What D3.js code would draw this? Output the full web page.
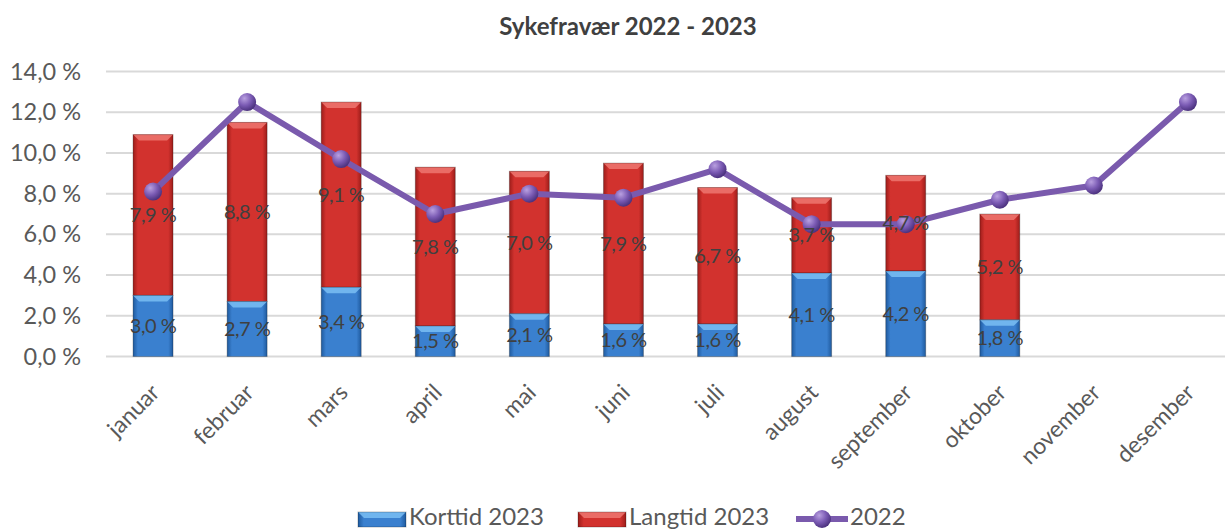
<!DOCTYPE html>
<html>
<head>
<meta charset="utf-8">
<script src="https://cdn.jsdelivr.net/npm/d3@7"></script>
<style>
  body { margin: 0; background: #fff; }
  text { font-family: Lato, "Open Sans", sans-serif; fill: #595959; }
</style>
</head>
<body>
<script>
var months = ["januar","februar","mars","april","mai","juni","juli","august","september","oktober","november","desember"]
var korttid2023 = [3.0, 2.7, 3.4, 1.5, 2.1, 1.6, 1.6, 4.1, 4.2, 1.8]
var langtid2023 = [7.9, 8.8, 9.1, 7.8, 7.0, 7.9, 6.7, 3.7, 4.7, 5.2]
var line2022 = [8.1, 12.5, 9.7, 7.0, 8.0, 7.8, 9.2, 6.5, 6.5, 7.7, 8.4, 12.5]
var yTicks = [0, 2, 4, 6, 8, 10, 12, 14]
var legendNames = ["Korttid 2023", "Langtid 2023", "2022"]

var width = 1225, height = 531

var svg = d3.select("body").append("svg")
            .attr("width", width)
            .attr("height", height)

var defs = svg.append("defs")

function barGradient(id, edge, mid) {
  var g = defs.append("linearGradient").attr("id", id)
              .attr("x1", "0%").attr("x2", "100%").attr("y1", "0%").attr("y2", "0%")
  g.append("stop").attr("offset", "0%").attr("stop-color", edge)
  g.append("stop").attr("offset", "12%").attr("stop-color", mid)
  g.append("stop").attr("offset", "88%").attr("stop-color", mid)
  g.append("stop").attr("offset", "100%").attr("stop-color", edge)
}
barGradient("blueGrad", "#1f5a9e", "#3a80cf")
barGradient("redGrad", "#9c1d1a", "#d2322e")

var rg = defs.append("radialGradient").attr("id", "dotGrad")
             .attr("cx", "35%").attr("cy", "30%").attr("r", "70%")
rg.append("stop").attr("offset", "0%").attr("stop-color", "#b9a0e0")
rg.append("stop").attr("offset", "55%").attr("stop-color", "#7b5bb4")
rg.append("stop").attr("offset", "100%").attr("stop-color", "#4d3380")

var x = d3.scaleBand().domain(months).range([106, 1235])
          .paddingInner(0.575).paddingOuter(0.2875)
var y = d3.scaleLinear().domain([0, 14]).range([356.5, 71.5])

// title
svg.append("text")
   .attr("x", 628).attr("y", 35)
   .attr("text-anchor", "middle")
   .attr("font-size", "24px").attr("font-weight", "bold")
   .style("fill", "#404040")
   .text("Sykefravær 2022 - 2023")

// grid
svg.append("g").selectAll("line").data(yTicks).enter().append("line")
   .attr("x1", 106).attr("x2", width)
   .attr("y1", function(d){return y(d)}).attr("y2", function(d){return y(d)})
   .attr("stroke", "#d9d9d9").attr("stroke-width", 2)

// y labels
svg.append("g").selectAll("text").data(yTicks).enter().append("text")
   .attr("x", 81).attr("y", function(d){return y(d) + 8})
   .attr("text-anchor", "end")
   .attr("font-size", "23.5px")
   .text(function(d){return d3.format(".1f")(d).replace(".", ",") + " %"})

// x labels
svg.append("g").selectAll("text").data(months).enter().append("text")
   .attr("text-anchor", "end")
   .attr("font-size", "23px")
   .attr("transform", function(d){return "translate(" + (x(d) + x.bandwidth()/2 + 8) + ",394) rotate(-45)"})
   .text(function(d){return d})

// stacked bars
var stackData = korttid2023.map(function(k, i){
  return {month: months[i], k: k, l: langtid2023[i]}
})

function drawSegment(g, x0, y0, w, h, fill, light) {
  g.append("rect").attr("x", x0).attr("y", y0).attr("width", w).attr("height", h)
   .attr("fill", fill)
  g.append("path")
   .attr("d", "M" + x0 + "," + y0 + "L" + (x0 + w) + "," + y0 + "L" + (x0 + w - 6) + "," + (y0 + 6) + "L" + (x0 + 6) + "," + (y0 + 6) + "Z")
   .attr("fill", light).attr("opacity", 0.8)
  g.append("rect").attr("x", x0).attr("y", y0).attr("width", w).attr("height", h)
   .attr("fill", "none").attr("stroke", "rgba(0,0,0,0.25)").attr("stroke-width", 1)
}

var bars = svg.append("g")
stackData.forEach(function(d){
  var bx = x(d.month), bw = x.bandwidth()
  drawSegment(bars, bx, y(d.k + d.l), bw, y(d.k) - y(d.k + d.l), "url(#redGrad)", "#f07a74")
  drawSegment(bars, bx, y(d.k), bw, y(0) - y(d.k), "url(#blueGrad)", "#7ec2f5")
})

// line
var lineGen = d3.line()
  .x(function(d, i){return x(months[i]) + x.bandwidth()/2})
  .y(function(d){return y(d)})

svg.append("path").datum(line2022)
   .attr("d", lineGen)
   .attr("fill", "none").attr("stroke", "#7a5aad").attr("stroke-width", 6)
   .attr("stroke-linejoin", "round")

svg.append("g").selectAll("circle").data(line2022).enter().append("circle")
   .attr("cx", function(d, i){return x(months[i]) + x.bandwidth()/2})
   .attr("cy", function(d){return y(d)})
   .attr("r", 9)
   .attr("fill", "url(#dotGrad)")

// data labels
function pct(v) { return d3.format(".1f")(v).replace(".", ",") + " %" }
var labels = svg.append("g")
stackData.forEach(function(d){
  var cx = x(d.month) + x.bandwidth()/2
  labels.append("text").attr("x", cx).attr("y", y(d.k/2) + 7)
        .attr("text-anchor", "middle").attr("font-size", "20px")
        .attr("letter-spacing", "-0.5px")
        .style("fill", "#404040")
        .text(pct(d.k))
  labels.append("text").attr("x", cx).attr("y", y(d.k + d.l/2) + 7)
        .attr("text-anchor", "middle").attr("font-size", "20px")
        .attr("letter-spacing", "-0.5px")
        .style("fill", "#404040")
        .text(pct(d.l))
})

// legend
var leg = svg.append("g")
drawSegment(leg, 358, 512, 48, 15, "url(#blueGrad)", "#7ec2f5")
leg.append("text").attr("x", 409).attr("y", 525).attr("font-size", "24px").text(legendNames[0])
drawSegment(leg, 578, 512, 48, 15, "url(#redGrad)", "#f07a74")
leg.append("text").attr("x", 629).attr("y", 525).attr("font-size", "24px").text(legendNames[1])
leg.append("line").attr("x1", 796).attr("x2", 848).attr("y1", 519).attr("y2", 519)
   .attr("stroke", "#7a5aad").attr("stroke-width", 6)
leg.append("circle").attr("cx", 822).attr("cy", 519).attr("r", 9).attr("fill", "url(#dotGrad)")
leg.append("text").attr("x", 850).attr("y", 525).attr("font-size", "24px").text(legendNames[2])
</script>
</body>
</html>
